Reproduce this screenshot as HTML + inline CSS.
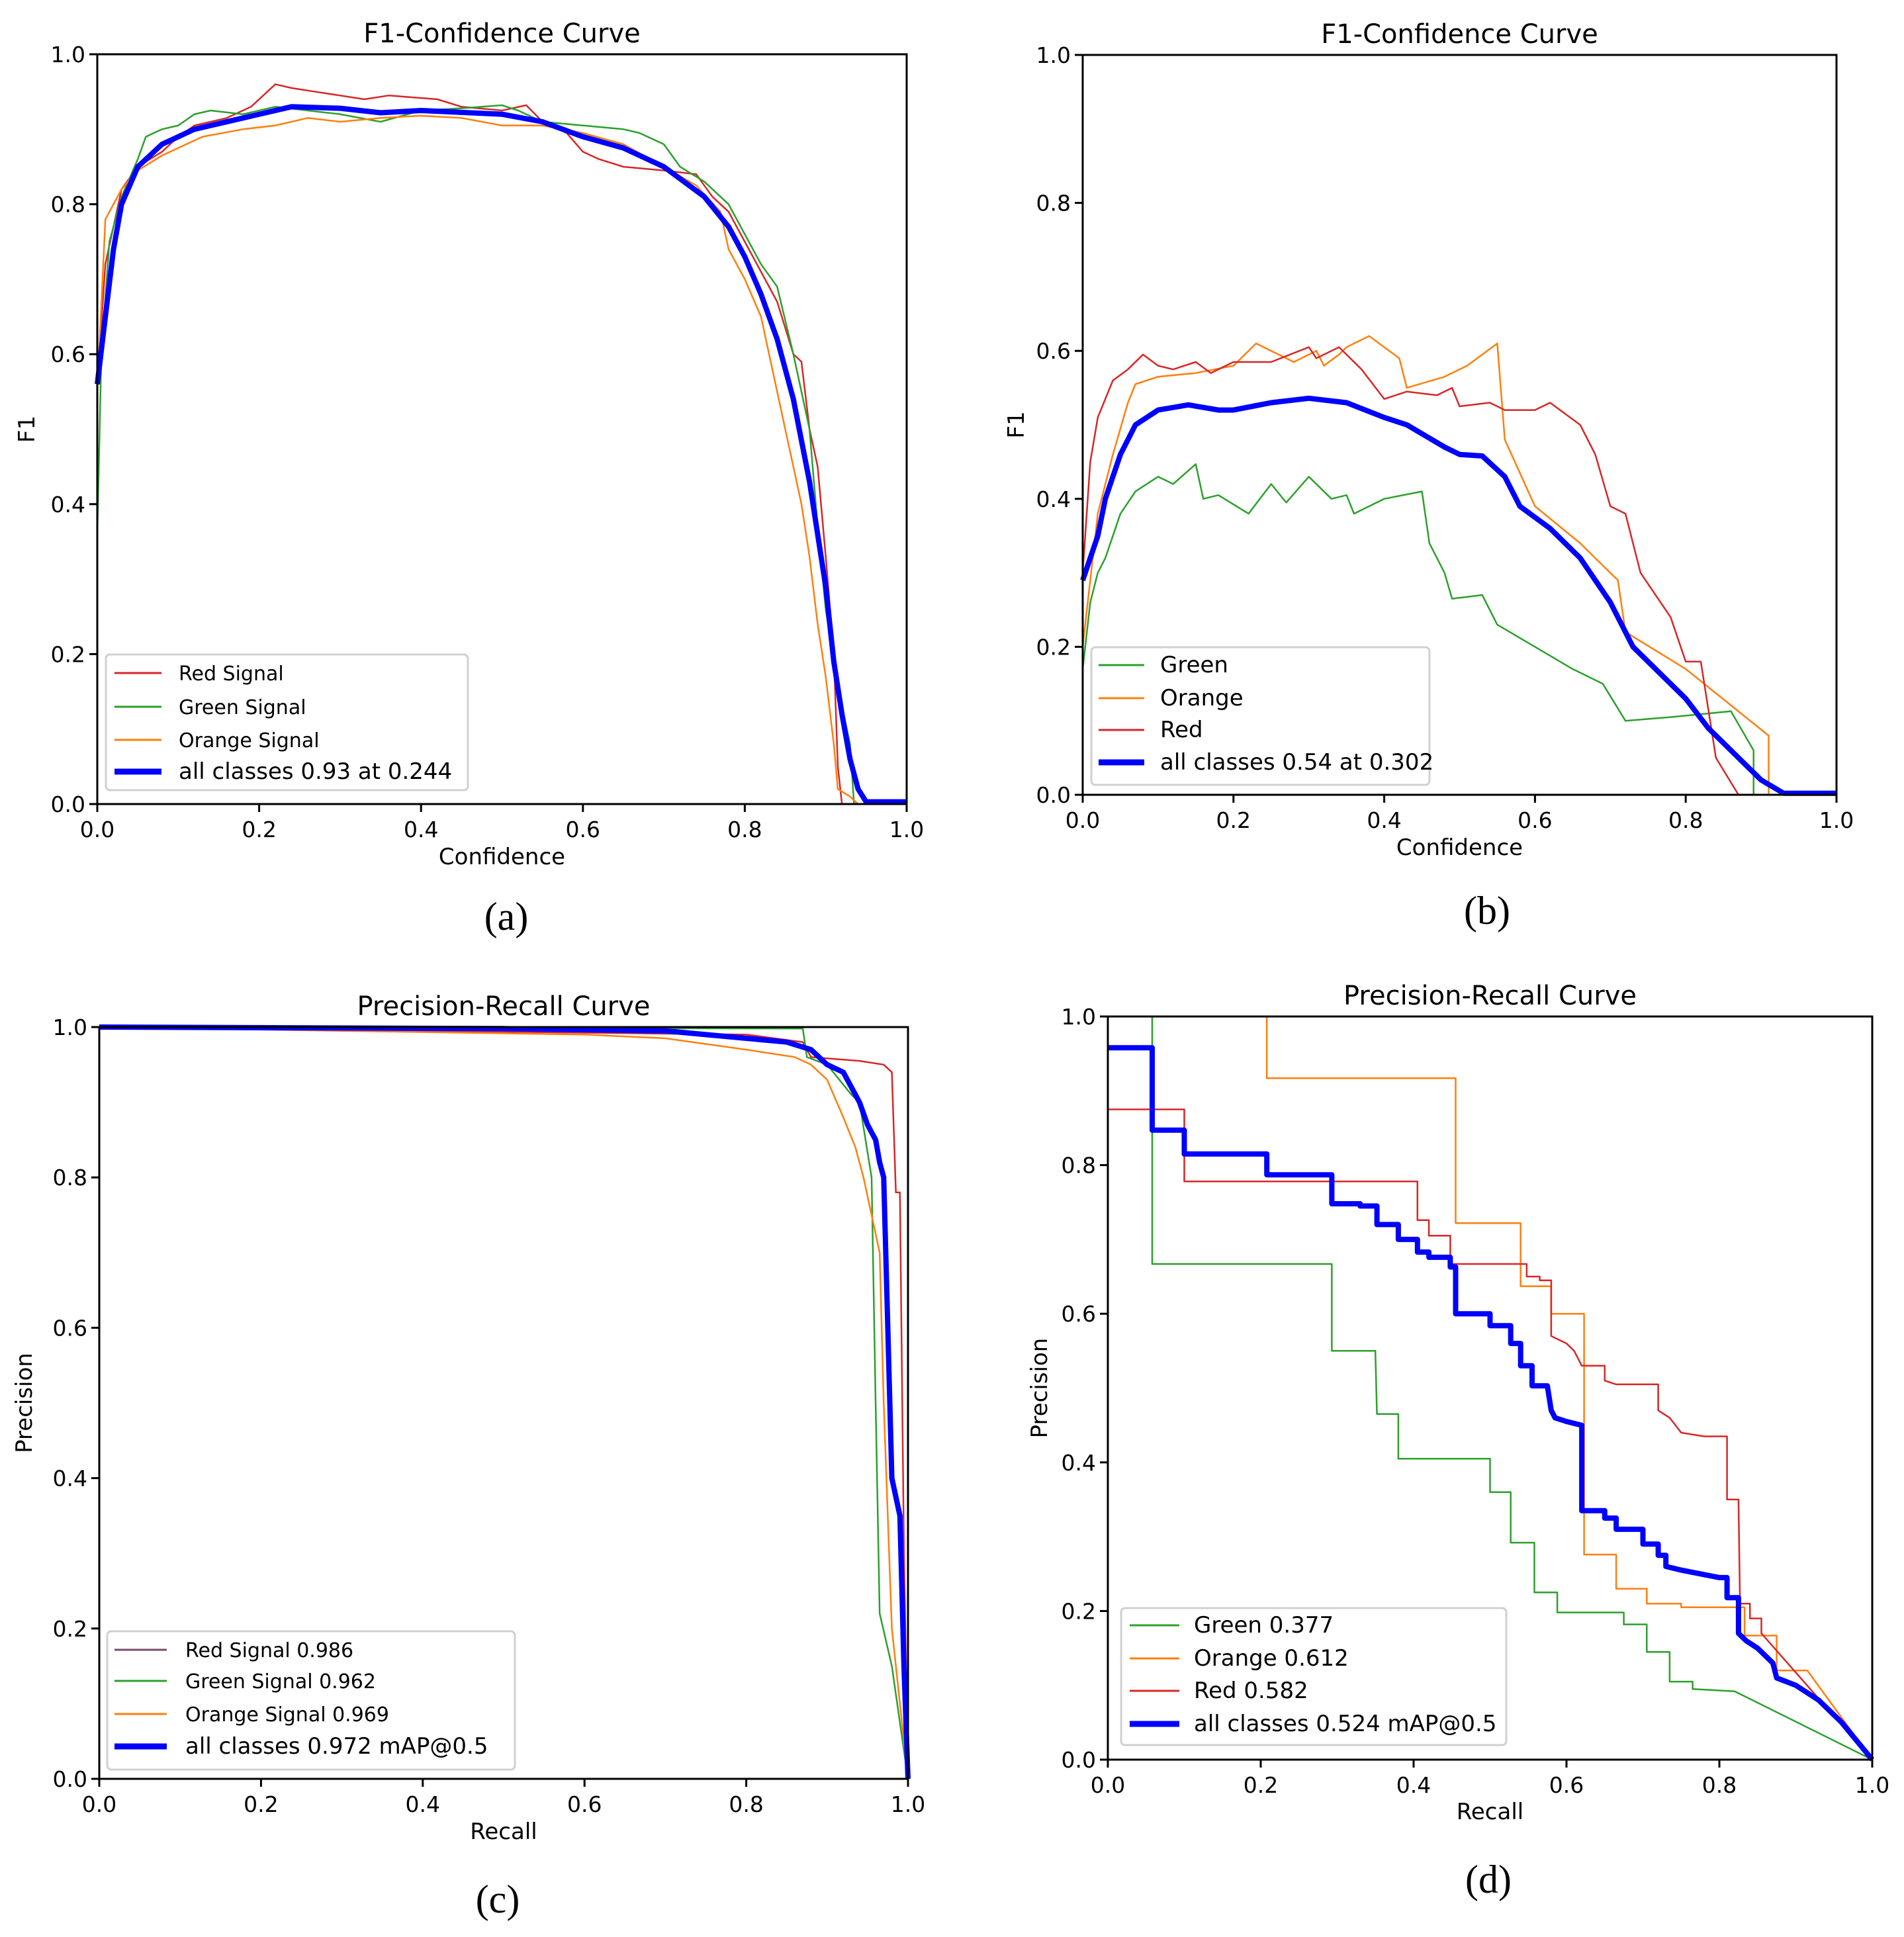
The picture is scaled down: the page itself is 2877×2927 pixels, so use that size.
<!DOCTYPE html>
<html><head><meta charset="utf-8"><style>
html,body{margin:0;padding:0;background:#fff;}
svg{display:block;font-family:"DejaVu Sans","Liberation Sans",sans-serif;}
</style></head><body>
<svg id="fig" width="2877" height="2927" viewBox="0 0 2877 2927" xmlns="http://www.w3.org/2000/svg"></svg>
<script>
// ---- Tick data ----
const tickVals = [0, 0.2, 0.4, 0.6, 0.8, 1.0];
const tickLabels = ["0.0","0.2","0.4","0.6","0.8","1.0"];

// ---- Panel (a) F1-Confidence ----
const aRedX = [0,0.01,0.03,0.05,0.08,0.1,0.12,0.16,0.19,0.21,0.22,0.24,0.27,0.3,0.33,0.36,0.42,0.45,0.5,0.53,0.55,0.58,0.6,0.62,0.65,0.7,0.74,0.76,0.78,0.8,0.82,0.84,0.86,0.87,0.88,0.89,0.9,0.91,0.915,0.92];
const aRedY = [0.56,0.72,0.82,0.85,0.87,0.89,0.905,0.915,0.93,0.95,0.96,0.955,0.95,0.945,0.94,0.945,0.94,0.93,0.925,0.932,0.91,0.895,0.87,0.86,0.85,0.845,0.84,0.81,0.79,0.75,0.71,0.67,0.6,0.59,0.5,0.45,0.33,0.2,0.05,0];
const aGreenX = [0,0.005,0.015,0.03,0.05,0.06,0.08,0.1,0.12,0.14,0.18,0.22,0.26,0.3,0.35,0.4,0.45,0.5,0.52,0.55,0.6,0.65,0.67,0.7,0.72,0.75,0.78,0.8,0.82,0.84,0.86,0.87,0.88,0.89,0.9,0.91,0.92,0.93,0.935];
const aGreenY = [0.36,0.6,0.75,0.81,0.86,0.89,0.9,0.905,0.92,0.925,0.92,0.93,0.925,0.92,0.91,0.925,0.928,0.932,0.925,0.91,0.905,0.9,0.895,0.88,0.85,0.83,0.8,0.76,0.72,0.69,0.6,0.55,0.5,0.37,0.26,0.19,0.13,0.08,0];
const aOrangeX = [0,0.01,0.02,0.03,0.05,0.08,0.1,0.13,0.18,0.22,0.26,0.3,0.35,0.4,0.45,0.5,0.55,0.6,0.65,0.7,0.74,0.77,0.78,0.8,0.82,0.83,0.84,0.85,0.86,0.87,0.88,0.89,0.9,0.91,0.915,0.93,0.94];
const aOrangeY = [0.55,0.78,0.8,0.82,0.845,0.865,0.875,0.89,0.9,0.905,0.915,0.91,0.915,0.918,0.915,0.905,0.905,0.895,0.88,0.85,0.825,0.79,0.74,0.7,0.65,0.6,0.55,0.5,0.45,0.4,0.33,0.24,0.17,0.08,0.02,0.01,0];
const aAllX = [0,0.01,0.02,0.03,0.05,0.08,0.12,0.18,0.24,0.3,0.35,0.4,0.5,0.55,0.6,0.65,0.7,0.75,0.78,0.8,0.82,0.84,0.86,0.88,0.9,0.91,0.92,0.93,0.94,0.95,1];
const aAllY = [0.56,0.65,0.74,0.8,0.85,0.88,0.9,0.915,0.93,0.928,0.922,0.925,0.92,0.91,0.89,0.875,0.85,0.81,0.77,0.73,0.68,0.62,0.54,0.43,0.29,0.19,0.12,0.06,0.02,0.003,0.003];

// ---- Panel (b) F1-Confidence ----
const bGreenX = [0,0.01,0.02,0.03,0.05,0.07,0.1,0.12,0.15,0.16,0.18,0.22,0.25,0.27,0.3,0.33,0.35,0.36,0.4,0.45,0.46,0.48,0.49,0.53,0.55,0.6,0.65,0.69,0.72,0.78,0.86,0.89,0.89];
const bGreenY = [0.17,0.26,0.3,0.32,0.38,0.41,0.43,0.42,0.447,0.4,0.405,0.38,0.42,0.395,0.43,0.4,0.405,0.38,0.4,0.41,0.34,0.3,0.265,0.27,0.23,0.2,0.17,0.15,0.1,0.105,0.113,0.06,0];
const bOrangeX = [0,0.02,0.04,0.06,0.07,0.1,0.15,0.2,0.23,0.28,0.31,0.32,0.34,0.35,0.38,0.42,0.43,0.48,0.51,0.55,0.56,0.6,0.66,0.71,0.72,0.8,0.91,0.91];
const bOrangeY = [0.2,0.38,0.46,0.53,0.555,0.565,0.57,0.58,0.61,0.585,0.6,0.58,0.595,0.605,0.62,0.59,0.55,0.565,0.58,0.61,0.48,0.39,0.34,0.29,0.22,0.17,0.08,0];
const bRedX = [0,0.01,0.02,0.04,0.06,0.08,0.1,0.12,0.15,0.17,0.2,0.25,0.3,0.31,0.34,0.37,0.4,0.43,0.47,0.49,0.5,0.54,0.56,0.6,0.62,0.66,0.68,0.7,0.72,0.74,0.76,0.78,0.8,0.82,0.84,0.87];
const bRedY = [0.3,0.45,0.51,0.56,0.575,0.595,0.58,0.575,0.585,0.57,0.585,0.585,0.605,0.59,0.605,0.575,0.535,0.545,0.54,0.55,0.525,0.53,0.52,0.52,0.53,0.5,0.46,0.39,0.38,0.3,0.27,0.24,0.18,0.18,0.05,0];
const bAllX = [0,0.02,0.03,0.05,0.07,0.1,0.14,0.18,0.2,0.25,0.3,0.35,0.4,0.43,0.48,0.5,0.53,0.56,0.58,0.62,0.66,0.7,0.73,0.77,0.8,0.83,0.87,0.9,0.93,1];
const bAllY = [0.29,0.35,0.4,0.46,0.5,0.52,0.527,0.52,0.52,0.53,0.536,0.53,0.51,0.5,0.47,0.46,0.458,0.43,0.39,0.36,0.32,0.26,0.2,0.16,0.13,0.09,0.05,0.02,0.002,0.002];

// ---- Panel (c) Precision-Recall ----
const cRedX = [0,0.8,0.87,0.88,0.94,0.97,0.98,0.985,0.99,0.995,1];
const cRedY = [1,0.99,0.98,0.96,0.955,0.95,0.94,0.78,0.78,0.3,0];
const cGreenX = [0,0.87,0.875,0.9,0.93,0.94,0.955,0.96,0.965,0.98,1];
const cGreenY = [1,0.998,0.96,0.95,0.91,0.9,0.8,0.5,0.22,0.15,0];
const cOrangeX = [0,0.6,0.7,0.8,0.86,0.88,0.9,0.92,0.935,0.945,0.955,0.965,0.97,0.98,1];
const cOrangeY = [1,0.99,0.985,0.97,0.96,0.95,0.93,0.88,0.84,0.8,0.75,0.7,0.5,0.2,0];
const cAllX = [0,0.5,0.7,0.75,0.8,0.85,0.88,0.9,0.92,0.93,0.94,0.95,0.96,0.965,0.97,0.975,0.98,0.99,0.995,1];
const cAllY = [1,0.998,0.995,0.99,0.985,0.98,0.97,0.95,0.94,0.92,0.9,0.87,0.85,0.82,0.8,0.6,0.4,0.35,0.15,0];

// ---- Panel (d) Precision-Recall ----
const dGreenX = [0.058,0.058,0.293,0.293,0.35,0.35,0.352,0.38,0.38,0.5,0.5,0.527,0.527,0.558,0.558,0.588,0.588,0.675,0.675,0.705,0.705,0.735,0.735,0.765,0.765,0.82,1];
const dGreenY = [1,0.667,0.667,0.55,0.55,0.545,0.465,0.465,0.405,0.405,0.36,0.36,0.292,0.292,0.225,0.225,0.198,0.198,0.182,0.182,0.145,0.145,0.105,0.105,0.095,0.092,0];
const dOrangeX = [0.208,0.208,0.455,0.455,0.54,0.54,0.58,0.58,0.623,0.623,0.665,0.665,0.705,0.705,0.75,0.75,0.833,0.833,0.875,0.875,0.915,1];
const dOrangeY = [1,0.917,0.917,0.722,0.722,0.637,0.637,0.6,0.6,0.276,0.276,0.23,0.23,0.21,0.21,0.205,0.205,0.167,0.167,0.12,0.12,0];
const dRedX = [0,0.1,0.1,0.405,0.405,0.42,0.42,0.448,0.448,0.548,0.548,0.565,0.565,0.58,0.58,0.6,0.61,0.62,0.65,0.65,0.665,0.72,0.72,0.735,0.75,0.78,0.81,0.81,0.825,0.827,0.84,0.84,0.855,0.855,1];
const dRedY = [0.875,0.875,0.778,0.778,0.726,0.726,0.705,0.705,0.667,0.667,0.65,0.65,0.645,0.645,0.57,0.56,0.55,0.53,0.53,0.51,0.505,0.505,0.47,0.46,0.44,0.435,0.435,0.35,0.35,0.21,0.21,0.19,0.19,0.17,0];
const dAllX = [0,0.058,0.058,0.1,0.1,0.208,0.208,0.293,0.293,0.33,0.33,0.352,0.352,0.38,0.38,0.405,0.405,0.42,0.42,0.448,0.448,0.455,0.455,0.5,0.5,0.527,0.527,0.54,0.54,0.555,0.555,0.575,0.58,0.585,0.6,0.62,0.62,0.65,0.65,0.665,0.665,0.7,0.7,0.72,0.72,0.73,0.73,0.75,0.8,0.81,0.81,0.825,0.825,0.835,0.85,0.86,0.87,0.875,0.9,0.93,0.96,1];
const dAllY = [0.958,0.958,0.847,0.847,0.815,0.815,0.787,0.787,0.748,0.748,0.745,0.745,0.72,0.72,0.70,0.70,0.683,0.683,0.676,0.676,0.663,0.663,0.6,0.6,0.584,0.584,0.56,0.56,0.53,0.53,0.503,0.503,0.47,0.46,0.455,0.45,0.335,0.335,0.325,0.325,0.31,0.31,0.29,0.29,0.275,0.275,0.26,0.255,0.245,0.245,0.218,0.218,0.17,0.16,0.15,0.14,0.13,0.11,0.1,0.08,0.05,0];

const NS = "http://www.w3.org/2000/svg";
const svg = document.getElementById('fig');
function el(tag, attrs, parent){ const e=document.createElementNS(NS,tag); for(const k in attrs) e.setAttribute(k, attrs[k]); (parent||svg).appendChild(e); return e; }
function txt(s, attrs, parent){ const e=el('text', attrs, parent); e.textContent=s; return e; }

const C = {green:'#2ca02c', orange:'#ff7f0e', red:'#d62728', blue:'#0000ff'};

function panel(p){
  const g = el('g', {});
  
  
  const L=p.L,R=p.R,T=p.T,B=p.B;
  const sx = v => L + v*(R-L);
  const sy = v => B - v*(B-T);
  // series
  p.series.forEach(s=>{
    const pts = s.x.map((xv,i)=> sx(xv).toFixed(1)+','+sy(s.y[i]).toFixed(1)).join(' ');
    const pl = el('polyline', {points:pts, fill:'none', stroke:s.color, 'stroke-width':s.w, 'stroke-linejoin':'round'}, g);
    
    
  });
  // frame
  const fr = el('rect', {x:L, y:T, width:R-L, height:B-T, fill:'none', stroke:'#000', 'stroke-width':3}, g);
  
  
  // ticks
  tickVals.forEach((v,i)=>{
    el('line',{x1:sx(v),x2:sx(v),y1:B,y2:B+12,stroke:'#000','stroke-width':3},g);
    const xt = txt(tickLabels[i], {x:sx(v), y:B+50, 'font-size':33, 'text-anchor':'middle'}, g);
    
    
    el('line',{x1:L-12,x2:L,y1:sy(v),y2:sy(v),stroke:'#000','stroke-width':3},g);
    const yt = txt(tickLabels[i], {x:L-18, y:sy(v)+12, 'font-size':33, 'text-anchor':'end'}, g);
    
    
  });
  const ti = txt(p.title, {x:(L+R)/2, y:T-18, 'font-size':40, 'text-anchor':'middle'}, g);
  
  
  const xl = txt(p.xlabel, {x:(L+R)/2, y:p.xly, 'font-size':34, 'text-anchor':'middle'}, g);
  
  
  const yl = txt(p.ylabel, {x:0, y:0, 'font-size':34, 'text-anchor':'middle', transform:`translate(${p.ylx},${(T+B)/2}) rotate(-90)`}, g);
  
  
  // legend
  const lg = el('g', {}, g);
  
  
  const Lg = p.legend;
  el('rect',{x:Lg.x,y:Lg.y,width:Lg.w,height:Lg.h,rx:6,fill:'#fff','fill-opacity':0.8,stroke:'#d0d0d0','stroke-width':3},lg);
  Lg.items.forEach((it,i)=>{
    const ey = Lg.ys[i];
    el('line',{x1:Lg.lx1,x2:Lg.lx2,y1:ey,y2:ey,stroke:it.color,'stroke-width':it.w},lg);
    const t = txt(it.label,{x:Lg.tx, y:ey+11, 'font-size':it.fs},lg);
    
    
  });
  const cap = txt(p.cap,{x:p.capx,y:p.capy,'font-size':60,'text-anchor':'middle','font-family':'"Liberation Serif",serif'},g);
  
  
}

panel({id:'panel-a',L:147,R:1370,T:82,B:1215,title:'F1-Confidence Curve',xlabel:'Confidence',ylabel:'F1',xly:1306,ylx:52,cap:'(a)',capx:765,capy:1405,
  series:[{key:'red',x:aRedX,y:aRedY,color:C.red,w:2.5},{key:'green',x:aGreenX,y:aGreenY,color:C.green,w:2.5},{key:'orange',x:aOrangeX,y:aOrangeY,color:C.orange,w:2.5},{key:'all',x:aAllX,y:aAllY,color:C.blue,w:8}],
  legend:{x:160,y:989,w:547,h:205,lx1:173,lx2:244,tx:270,ys:[1017,1068,1118,1166],
    items:[{label:'Red Signal',color:C.red,w:3,fs:30},{label:'Green Signal',color:C.green,w:3,fs:30},{label:'Orange Signal',color:C.orange,w:3,fs:30},{label:'all classes 0.93 at 0.244',color:C.blue,w:9,fs:34}]}});

panel({id:'panel-b',L:1636,R:2775,T:83,B:1201,title:'F1-Confidence Curve',xlabel:'Confidence',ylabel:'F1',xly:1292,ylx:1547,cap:'(b)',capx:2247,capy:1396,
  series:[{key:'green',x:bGreenX,y:bGreenY,color:C.green,w:2.5},{key:'orange',x:bOrangeX,y:bOrangeY,color:C.orange,w:2.5},{key:'red',x:bRedX,y:bRedY,color:C.red,w:2.5},{key:'all',x:bAllX,y:bAllY,color:C.blue,w:8}],
  legend:{x:1649,y:978,w:511,h:208,lx1:1660,lx2:1729,tx:1753,ys:[1005,1055,1103,1152],
    items:[{label:'Green',color:C.green,w:3,fs:34},{label:'Orange',color:C.orange,w:3,fs:34},{label:'Red',color:C.red,w:3,fs:34},{label:'all classes 0.54 at 0.302',color:C.blue,w:9,fs:34}]}});

panel({id:'panel-c',L:150,R:1372,T:1552,B:2688,title:'Precision-Recall Curve',xlabel:'Recall',ylabel:'Precision',xly:2779,ylx:48,cap:'(c)',capx:752,capy:2890,
  series:[{key:'red',x:cRedX,y:cRedY,color:C.red,w:2.5},{key:'green',x:cGreenX,y:cGreenY,color:C.green,w:2.5},{key:'orange',x:cOrangeX,y:cOrangeY,color:C.orange,w:2.5},{key:'all',x:cAllX,y:cAllY,color:C.blue,w:8}],
  legend:{x:162,y:2465,w:616,h:209,lx1:173,lx2:252,tx:280,ys:[2493,2540,2590,2639],
    items:[{label:'Red Signal 0.986',color:'#7a4a6a',w:3,fs:30},{label:'Green Signal 0.962',color:C.green,w:3,fs:30},{label:'Orange Signal 0.969',color:C.orange,w:3,fs:30},{label:'all classes 0.972 mAP@0.5',color:C.blue,w:9,fs:34}]}});

panel({id:'panel-d',L:1674,R:2829,T:1536,B:2659,title:'Precision-Recall Curve',xlabel:'Recall',ylabel:'Precision',xly:2749,ylx:1582,cap:'(d)',capx:2249,capy:2860,
  series:[{key:'green',x:dGreenX,y:dGreenY,color:C.green,w:2.5},{key:'orange',x:dOrangeX,y:dOrangeY,color:C.orange,w:2.5},{key:'red',x:dRedX,y:dRedY,color:C.red,w:2.5},{key:'all',x:dAllX,y:dAllY,color:C.blue,w:8}],
  legend:{x:1694,y:2430,w:582,h:207,lx1:1707,lx2:1782,tx:1804,ys:[2456,2506,2555,2605],
    items:[{label:'Green 0.377',color:C.green,w:3,fs:34},{label:'Orange 0.612',color:C.orange,w:3,fs:34},{label:'Red 0.582',color:C.red,w:3,fs:34},{label:'all classes 0.524 mAP@0.5',color:C.blue,w:9,fs:34}]}});
</script>
</body></html>
